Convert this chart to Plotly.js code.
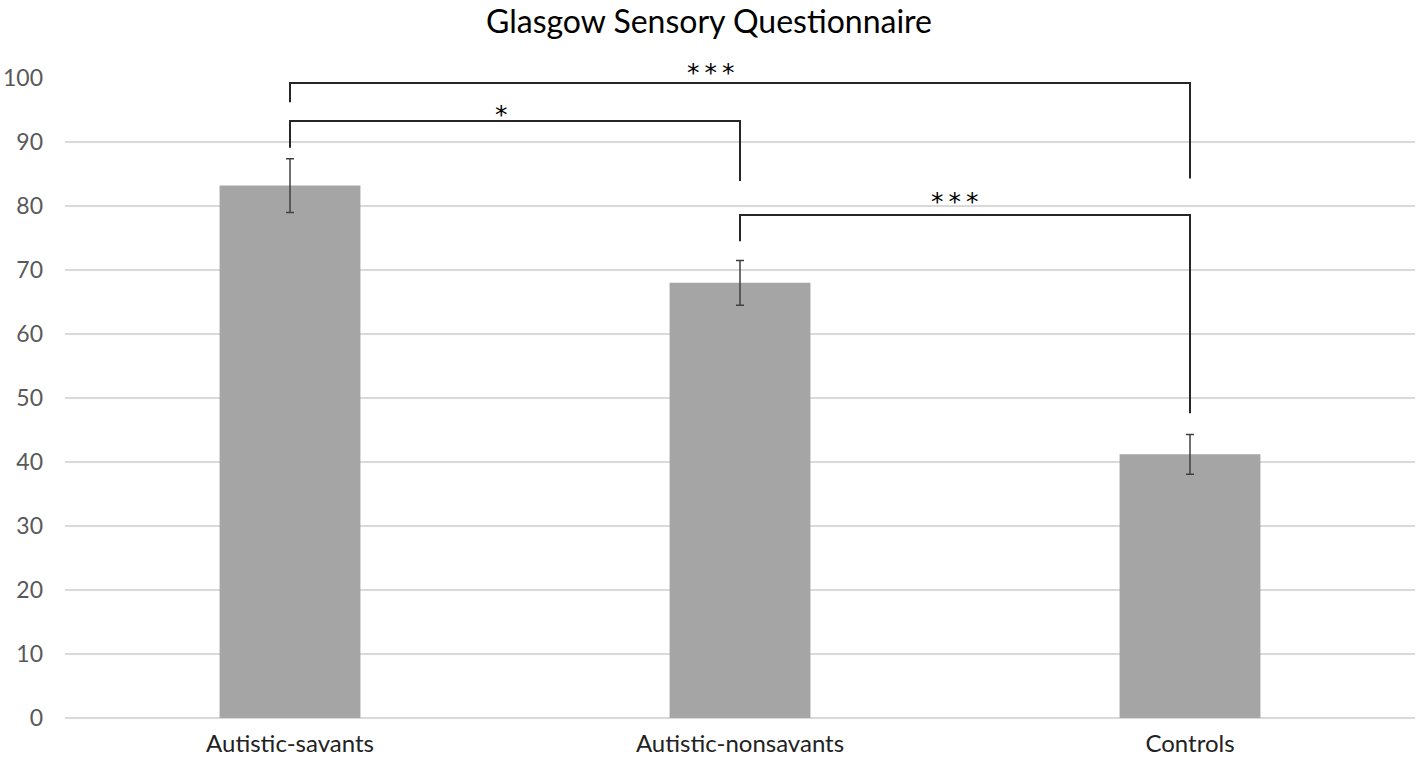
<!DOCTYPE html>
<html><head><meta charset="utf-8">
<script src="https://cdn.plot.ly/plotly-3.0.1.min.js"></script>
<style>html,body{margin:0;padding:0;background:#fff;}#chart{width:1418px;height:761px;}</style>
</head><body><div id="chart"></div>
<script>
const categories = ["Autistic-savants", "Autistic-nonsavants", "Controls"];
const means = [83.2, 68.0, 41.2];
const errors = [4.2, 3.5, 3.1];
const yTicks = [0, 10, 20, 30, 40, 50, 60, 70, 80, 90, 100];
const yMax = 100;

// significance brackets
const bracketFrom = [0, 0, 1];
const bracketTo = [2, 1, 2];
const bracketY = [99.2, 93.3, 78.6];
const bracketLeftEnd = [96.2, 89.1, 74.5];
const bracketRightEnd = [84.3, 83.9, 47.6];
const bracketLabels = ["*\u2009*\u2009*", "*", "*\u2009*\u2009*"];
const labelX = [0.936, 0.470, 1.478];
const labelY = [100.8, 94.3, 80.7];

const xIdx = categories.map((c, i) => i);

const traces = [{
  type: 'bar', x: xIdx, y: means, width: 0.313,
  marker: {color: '#a5a5a5'},
  error_y: {type: 'data', array: errors, visible: true, color: '#404040', thickness: 1.5, width: 4},
  hoverinfo: 'skip'
}];

bracketY.forEach((yb, i) => {
  traces.push({
    type: 'scatter', mode: 'lines',
    x: [bracketFrom[i], bracketFrom[i], bracketTo[i], bracketTo[i]],
    y: [bracketLeftEnd[i], yb, yb, bracketRightEnd[i]],
    line: {color: '#262626', width: 2},
    hoverinfo: 'skip', cliponaxis: false
  });
});

const annotations = bracketLabels.map((t, i) => ({
  x: labelX[i], xref: 'x', y: labelY[i] / yMax, yref: 'y domain',
  text: t, showarrow: false, xanchor: 'center', yanchor: 'middle',
  font: {family: 'DejaVu Sans, sans-serif', size: 25, color: '#000'}
}));

const layout = {
  width: 1418, height: 761,
  margin: {l: 65, r: 3, t: 78, b: 43},
  paper_bgcolor: '#fff', plot_bgcolor: '#fff',
  showlegend: false,
  title: {text: 'Glasgow Sensory Questionnaire', x: 0.5, xanchor: 'center', y: 0.971, yanchor: 'middle', yref: 'container',
          font: {family: 'Lato, sans-serif', size: 32, color: '#000'}},
  xaxis: {range: [-0.5, 2.5], tickvals: xIdx, ticktext: categories, showgrid: false, zeroline: false,
          showline: false, ticks: '', ticklen: 0, ticklabelstandoff: 9,
          tickfont: {family: 'Lato, sans-serif', size: 24, color: '#222'}},
  yaxis: {range: [0, yMax], tickvals: yTicks, showgrid: true, gridcolor: '#d9d9d9', gridwidth: 1.3,
          zeroline: true, zerolinecolor: '#d9d9d9', zerolinewidth: 1.3, showline: false, ticks: '',
          ticklabelstandoff: 21,
          tickfont: {family: 'Lato, sans-serif', size: 23, color: '#595959'}},
  annotations: annotations
};

Plotly.newPlot('chart', traces, layout, {displayModeBar: false, staticPlot: true});
</script>
</body></html>
